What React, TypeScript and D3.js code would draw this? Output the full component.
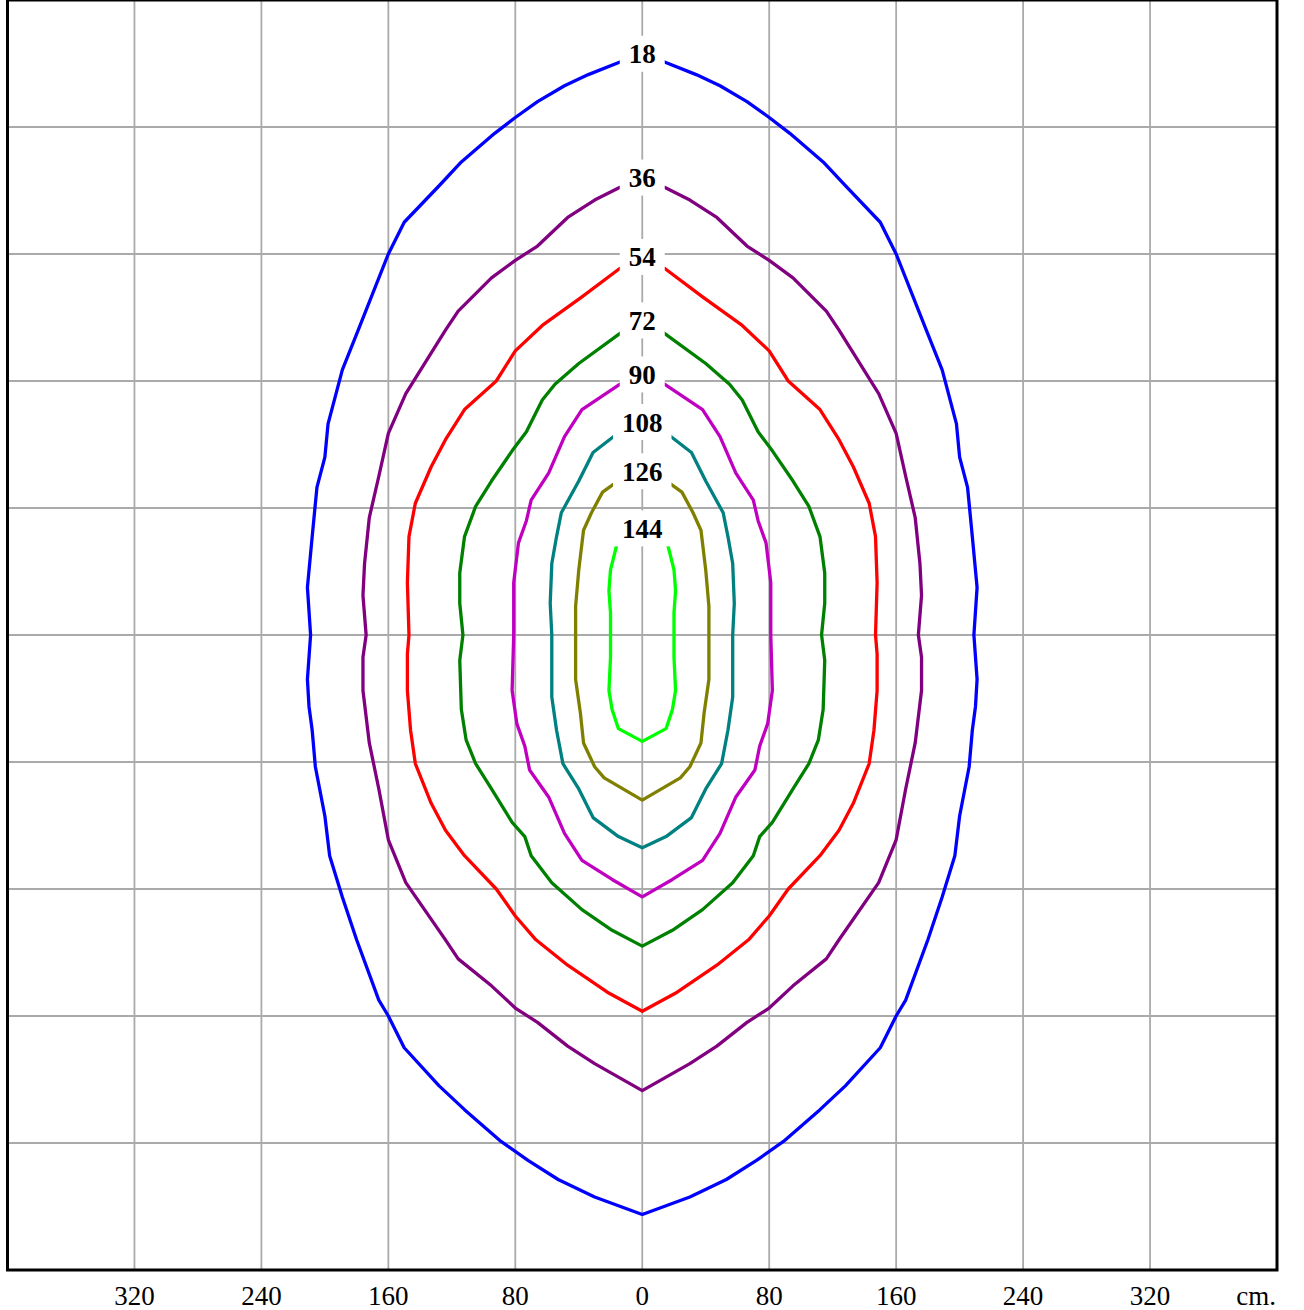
import React, { useEffect, useRef } from 'react';
import * as d3 from 'd3';

// isolux levels, colours and the right half of each contour [x cm, y cm],
// from the top apex clockwise down to the bottom apex (mirrored for the left half)
const levels = [18, 36, 54, 72, 90, 108, 126, 144];
const colors = ['#0000ff', '#800080', '#ff0000', '#008000', '#c000c0', '#008080', '#808000', '#00ff00'];

const iso18 = [
  [0, 363], [14, 361], [34, 353], [49, 346], [66, 336], [80, 326], [93, 316], [114, 298], [128, 283],
  [150, 260], [160, 240], [179, 192], [189, 167], [198, 133], [200, 112], [205, 93], [208, 62],
  [211, 30], [209, 0], [211, -28], [210, -45], [208, -60], [206, -83], [200, -114], [197, -139],
  [189, -165], [180, -192], [166, -230], [160, -240], [150, -260], [128, -284], [112, -299],
  [89, -319], [72, -331], [53, -343], [30, -354], [0, -365],
];
const iso36 = [
  [0, 285], [14, 282], [30, 274], [47, 263], [66, 245], [80, 236], [95, 225], [116, 204], [124, 192],
  [149, 152], [160, 127], [166, 100], [172, 74], [175, 45], [176, 25], [174, 0], [176, -14],
  [176, -35], [172, -68], [166, -97], [160, -129], [149, -156], [124, -192], [116, -204],
  [95, -221], [80, -235], [66, -244], [47, -259], [30, -270], [0, -287],
];
const iso54 = [
  [0, 235], [14, 231], [38, 213], [63, 195], [80, 179], [92, 160], [112, 142], [124, 123], [133, 106],
  [143, 83], [147, 62], [148, 33], [147, 0], [148, -12], [148, -35], [146, -60], [143, -81],
  [133, -106], [124, -123], [112, -139], [92, -160], [80, -177], [67, -192], [47, -208],
  [22, -225], [0, -237],
];
const iso72 = [
  [0, 195], [14, 190], [40, 171], [55, 158], [63, 148], [73, 128], [82, 116], [95, 97], [105, 81],
  [112, 62], [115, 39], [115, 20], [113, 0], [115, -16], [114, -47], [111, -66], [105, -81],
  [95, -97], [82, -118], [74, -127], [70, -139], [57, -156], [38, -173], [19, -186], [0, -196],
];
const iso90 = [
  [0, 161], [14, 158], [26, 150], [38, 142], [49, 125], [59, 102], [70, 85], [73, 72], [78, 58],
  [81, 33], [81, 0], [82, -35], [79, -56], [74, -70], [71, -85], [59, -102], [49, -125],
  [38, -142], [19, -154], [0, -165],
];
const iso108 = [
  [0, 131], [18, 125], [31, 115], [40, 97], [51, 77], [54, 62], [57, 45], [58, 20], [57, 0],
  [57, -39], [54, -60], [50, -81], [40, -97], [31, -115], [15, -127], [0, -134],
];
const iso126 = [
  [0, 100], [18, 95], [25, 90], [32, 77], [37, 66], [40, 41], [42, 18], [42, 0], [42, -28],
  [39, -49], [37, -68], [30, -83], [24, -90], [0, -104],
];
const iso144 = [
  [0, 64], [16, 57], [20, 41], [21, 28], [20, 14], [20, 0], [20, -14], [21, -35], [19, -47],
  [15, -59], [0, -67],
];

const halves = [iso18, iso36, iso54, iso72, iso90, iso108, iso126, iso144];

const gridTicks = [-320, -240, -160, -80, 0, 80, 160, 240, 320];

function mirror(half) {
  const left = half.slice(1, -1).reverse().map(([x, y]) => [-x, y]);
  return half.concat(left);
}

export default function App() {
  const svgRef = useRef();

  useEffect(() => {
    const width = 1304;
    const height = 1310;
    const box = { left: 7.5, right: 1277, top: 0, bottom: 1270 };
    const font = '"Liberation Serif", "Times New Roman", serif';

    d3.select(svgRef.current).selectAll('*').remove();

    const svg = d3.select(svgRef.current)
      .attr('width', width)
      .attr('height', height);

    const xScale = d3.scaleLinear().domain([-400, 400]).range([box.left, box.right]);
    const yScale = d3.scaleLinear().domain([400, -400]).range([box.top, box.bottom]);

    // Grid
    svg.append('g')
      .selectAll('line.v')
      .data(gridTicks)
      .enter()
      .append('line')
      .attr('x1', d => xScale(d))
      .attr('x2', d => xScale(d))
      .attr('y1', box.top)
      .attr('y2', box.bottom)
      .attr('stroke', '#aaaaaa')
      .attr('stroke-width', 1.8);

    svg.append('g')
      .selectAll('line.h')
      .data(gridTicks)
      .enter()
      .append('line')
      .attr('x1', box.left)
      .attr('x2', box.right)
      .attr('y1', d => yScale(d))
      .attr('y2', d => yScale(d))
      .attr('stroke', '#aaaaaa')
      .attr('stroke-width', 1.8);

    // Contours
    const line = d3.line()
      .x(d => xScale(d[0]))
      .y(d => yScale(d[1]))
      .curve(d3.curveLinearClosed);

    svg.append('g')
      .selectAll('path')
      .data(halves)
      .enter()
      .append('path')
      .attr('d', d => line(mirror(d)))
      .attr('fill', 'none')
      .attr('stroke', (d, i) => colors[i])
      .attr('stroke-width', 3.3)
      .attr('stroke-linejoin', 'round');

    // Contour labels at top apex
    const labelWidth = i => String(levels[i]).length * 13.5 + 18;

    const labels = svg.append('g')
      .selectAll('g')
      .data(halves)
      .enter()
      .append('g')
      .attr('transform', d => `translate(${xScale(0)},${yScale(d[0][1]) - 5})`);

    labels.append('rect')
      .attr('x', (d, i) => -labelWidth(i) / 2)
      .attr('y', -18)
      .attr('width', (d, i) => labelWidth(i))
      .attr('height', 36)
      .attr('fill', '#ffffff');

    labels.append('text')
      .attr('text-anchor', 'middle')
      .attr('y', 9.5)
      .attr('font-family', font)
      .attr('font-weight', 'bold')
      .style('font-size', '27px')
      .attr('fill', '#000')
      .text((d, i) => levels[i]);

    // Frame
    svg.append('rect')
      .attr('x', box.left)
      .attr('y', box.top)
      .attr('width', box.right - box.left)
      .attr('height', box.bottom - box.top)
      .attr('fill', 'none')
      .attr('stroke', '#000')
      .attr('stroke-width', 3);

    // X tick labels
    svg.append('g')
      .selectAll('text')
      .data(gridTicks)
      .enter()
      .append('text')
      .attr('x', d => xScale(d))
      .attr('y', 1305)
      .attr('text-anchor', 'middle')
      .attr('font-family', font)
      .style('font-size', '27px')
      .attr('fill', '#000')
      .text(d => Math.abs(d));

    svg.append('text')
      .attr('x', 1276)
      .attr('y', 1305)
      .attr('text-anchor', 'end')
      .attr('font-family', font)
      .style('font-size', '27px')
      .attr('fill', '#000')
      .text('cm.');
  }, []);

  return (
    <svg ref={svgRef} style={{ position: 'absolute', left: 0, top: 0, background: '#fff' }}></svg>
  );
}
